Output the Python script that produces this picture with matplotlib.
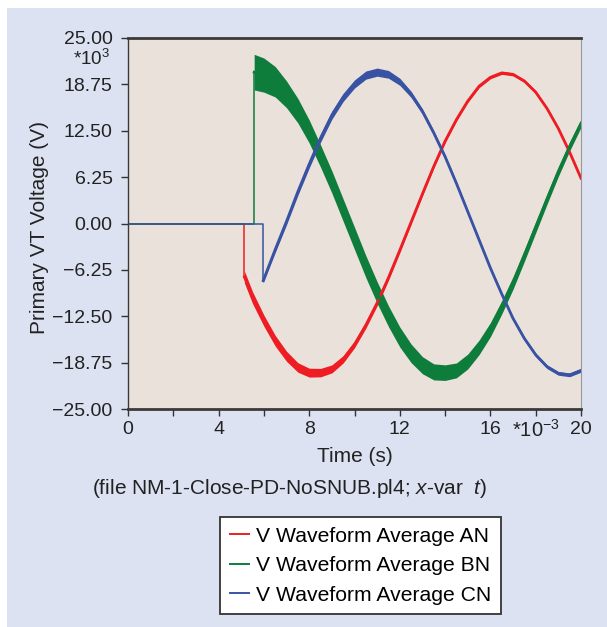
import numpy as np
import matplotlib.pyplot as plt
from matplotlib.patches import Rectangle

plt.rcParams['font.family'] = ['Liberation Sans', 'DejaVu Sans']
plt.rcParams['mathtext.fontset'] = 'custom'
plt.rcParams['mathtext.rm'] = 'Liberation Sans'
plt.rcParams['mathtext.it'] = 'Liberation Sans:italic'

# Time in ms, voltage in kV
t_an = [0, 5.14, 5.14, 5.5, 6.0, 6.5, 7.0, 7.5, 8.0, 8.5, 9.0, 9.5, 10.0, 10.5, 11.0,
        11.5, 12.0, 12.5, 13.0, 13.5, 14.0, 14.5, 15.0, 15.5, 16.0, 16.5, 17.0, 17.5,
        18.0, 18.5, 19.0, 19.5, 20.0]
v_an = [0, 0, -7.2, -10.0, -13.1, -15.8, -17.9, -19.4, -20.1, -20.1, -19.6, -18.3, -16.3,
        -13.7, -10.7, -7.3, -3.6, 0.2, 4.0, 7.7, 11.1, 14.0, 16.5, 18.5, 19.7, 20.3, 20.1,
        19.2, 17.7, 15.5, 12.8, 9.6, 6.1]
r_an = [0, 0, 0.8, 0.8, 0.75, 0.72, 0.68, 0.64, 0.6, 0.57, 0.54, 0.5, 0.45, 0.42, 0.38,
        0.35, 0.32, 0.3, 0.27, 0.25, 0.22, 0.2, 0.2, 0.2, 0.2, 0.2, 0.2, 0.2, 0.2, 0.2,
        0.2, 0.2, 0.2]

t_bn = [0, 5.57, 5.57, 6.0, 6.5, 7.0, 7.5, 8.0, 8.5, 9.0, 9.5, 10.0, 10.5, 11.0, 11.5,
        12.0, 12.5, 13.0, 13.5, 14.0, 14.5, 15.0, 15.5, 16.0, 16.5, 17.0, 17.5, 18.0,
        18.5, 19.0, 19.5, 20.0]
v_bn = [0, 0, 20.4, 20.0, 19.1, 17.4, 15.2, 12.4, 9.1, 5.6, 1.8, -2.0, -5.8, -9.3, -12.5,
        -15.3, -17.5, -19.1, -20.0, -20.1, -19.8, -18.6, -16.7, -14.3, -11.3, -8.0, -4.3,
        -0.5, 3.3, 7.0, 10.4, 13.5]
r_bn = [0, 0, 2.4, 2.3, 2.05, 1.8, 1.65, 1.55, 1.5, 1.5, 1.5, 1.5, 1.48, 1.45, 1.4, 1.35,
        1.25, 1.15, 1.08, 1.05, 1.0, 1.0, 0.98, 0.95, 0.9, 0.85, 0.8, 0.75, 0.7, 0.65,
        0.6, 0.55]

t_cn = [0, 5.97, 5.97, 6.5, 7.0, 7.5, 8.0, 8.5, 9.0, 9.5, 10.0, 10.5, 11.0, 11.5, 12.0,
        12.5, 13.0, 13.5, 14.0, 14.5, 15.0, 15.5, 16.0, 16.5, 17.0, 17.5, 18.0, 18.5,
        19.0, 19.5, 20.0]
v_cn = [0, 0, -7.7, -3.5, 0.3, 4.3, 8.0, 11.5, 14.6, 17.0, 18.8, 20.0, 20.4, 20.1, 19.1,
        17.4, 15.1, 12.2, 9.0, 5.4, 1.6, -2.2, -6.0, -9.5, -12.8, -15.5, -17.7, -19.3,
        -20.2, -20.4, -19.8]
r_cn = [0, 0, 0.3, 0.4, 0.45, 0.5, 0.52, 0.55, 0.55, 0.55, 0.55, 0.55, 0.55, 0.52, 0.48,
        0.42, 0.36, 0.32, 0.3, 0.28, 0.26, 0.25, 0.25, 0.25, 0.25, 0.25, 0.25, 0.25, 0.25,
        0.25, 0.25]

labels = ['V Waveform Average AN', 'V Waveform Average BN', 'V Waveform Average CN']
colors = ['#ee1d23', '#0e7d3b', '#3953a4']

yticks = [-25.0, -18.75, -12.5, -6.25, 0.0, 6.25, 12.5, 18.75, 25.0]
xticks = [0, 2, 4, 6, 8, 10, 12, 14, 16, 18, 20]
xticklabels = ['0', '', '4', '', '8', '', '12', '', '16', '', '20']

W, H = 607, 627
fig = plt.figure(figsize=(W / 100, H / 100), dpi=100, facecolor='white')
fig.patches.append(Rectangle((7 / W, 0), 1 - 7 / W, 1 - 8 / H, transform=fig.transFigure,
                             facecolor='#dce2f1', edgecolor='none', zorder=-10))

ax = fig.add_axes([128 / W, 1 - 409 / H, 453 / W, 371 / H])
ax.set_facecolor('#ebe1db')

series = [(t_an, v_an, r_an), (t_bn, v_bn, r_bn), (t_cn, v_cn, r_cn)]
for (t, v, r), c, lab in zip(series, colors, labels):
    t = np.array(t)
    v = np.array(v)
    r = np.array(r)
    # flat part and switching step are thin, the waveform after it is heavier
    ax.plot(t[:3], v[:3], color=c, lw=1.1, label=lab)
    ax.fill_between(t[2:], v[2:] - r[2:], v[2:] + r[2:], color=c, lw=0)
    ax.plot(t[2:], v[2:], color=c, lw=2.0)

ax.set_xlim(0, 20)
ax.set_ylim(-25, 25)
ax.set_yticks(yticks)
ax.set_yticklabels([f'{y:.2f}'.replace('-', '\u2212') for y in yticks])
ax.set_xticks(xticks)
ax.set_xticklabels(xticklabels)
ax.tick_params(direction='out', length=5, width=1, color='#333333',
               labelsize=14, labelcolor='#222222')
ax.tick_params(axis='y', pad=6)
ax.tick_params(axis='x', pad=4)

for side in ['top', 'bottom']:
    ax.spines[side].set_linewidth(2)
    ax.spines[side].set_color('#3a3a3a')
ax.spines['left'].set_linewidth(1)
ax.spines['left'].set_color('#3a3a3a')
ax.spines['right'].set_linewidth(0.8)
ax.spines['right'].set_color('#999999')

fig.text(40 / W, 1 - 228 / H, 'Primary VT Voltage (V)', rotation=90,
         ha='center', va='center', fontsize=15, color='#222222')
fig.text(92 / W, 1 - 65 / H, '*10$^3$', ha='center', va='baseline',
         fontsize=13.5, color='#222222')
fig.text(536 / W, 1 - 437 / H, '*10$^{\u22123}$', ha='center', va='baseline',
         fontsize=14.5, color='#222222')
fig.text(355 / W, 1 - 456 / H, 'Time (s)', ha='center', va='center',
         fontsize=15, color='#222222')
fig.text(290 / W, 1 - 489 / H, '(file NM-1-Close-PD-NoSNUB.pl4; $x$-var  $t$)',
         ha='center', va='center', fontsize=15, color='#222222')

leg = fig.legend(loc='upper left', bbox_to_anchor=(220 / W, 1 - 517 / H),
                 fontsize=15.2, handlelength=0.9, handletextpad=0.35,
                 labelspacing=0.5, borderpad=0.45, borderaxespad=0,
                 fancybox=False, framealpha=1, edgecolor='#333333')
leg.get_frame().set_linewidth(1.3)
for line in leg.get_lines():
    line.set_linewidth(1.4)

fig.savefig('out.png', dpi=100, facecolor=fig.get_facecolor())
